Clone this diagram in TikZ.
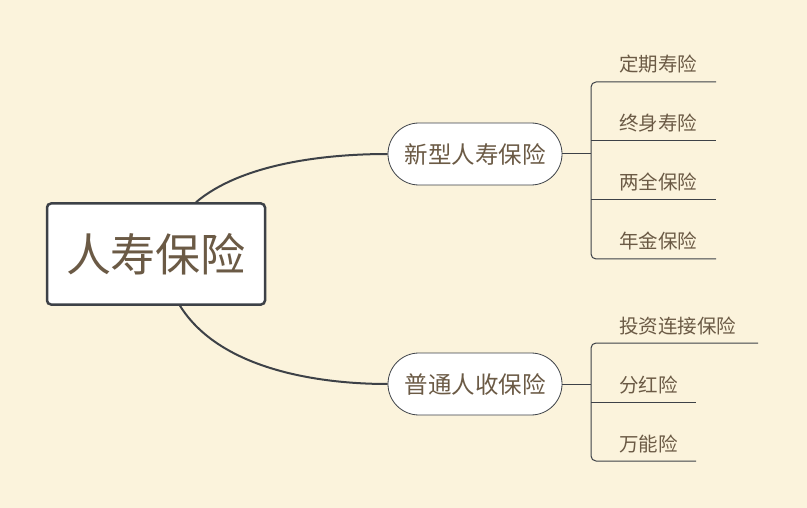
\documentclass[tikz,border=0pt]{standalone}
\usepackage{fontspec}
\setmainfont{Noto Sans CJK SC}
\usetikzlibrary{positioning}
\definecolor{bgcream}{HTML}{FBF3DC}
\definecolor{linegray}{HTML}{3D4147}
\definecolor{textbrown}{HTML}{6B5A45}
\tikzset{
	rootnode/.style = {draw=linegray, line width=2.5pt, fill=white, rounded corners=4pt,
		minimum width=218pt, minimum height=101pt, text=textbrown, font=\fontsize{45}{48}\selectfont},
	branchnode/.style = {draw=linegray, line width=0.8pt, fill=white, rounded corners=31pt,
		minimum width=174pt, minimum height=62pt, text=textbrown, font=\fontsize{23.5}{26}\selectfont},
	leafnode/.style = {anchor=base west, text=textbrown, font=\fontsize{19.5}{22}\selectfont, inner sep=0pt},
	conn/.style = {draw=linegray, line width=2pt},
	leafline/.style = {draw=linegray, line width=1pt, rounded corners=5pt}
}
\begin{document}
\begin{tikzpicture}[x=1pt,y=-1pt]
	\fill[bgcream] (0,0) rectangle (807,508);
	\useasboundingbox (0,0) rectangle (807,508);
	\node[rootnode] (root) at (156,254) {人寿保险};
	\node[branchnode] (new) at (475,154) {新型人寿保险};
	\node[branchnode] (old) at (475,384) {普通人收保险};
	% main connectors
	\draw[conn] (root.north) ++(40,0) coordinate (r1) .. controls (240,165) and (320,154) .. (new.west);
	\draw[conn] (root.south) ++(24,0) coordinate (r2) .. controls (220,370) and (320,384) .. (old.west);
	% upper leaves
	\coordinate (nb) at (591,154);
	\draw[leafline] (new.east) -- (nb);
	\draw[leafline] (716,82) -- (591,82) -- (591,259) -- (716,259);
	\draw[leafline] (591,141) -- (716,141);
	\draw[leafline] (591,200) -- (716,200);
	\node[leafnode] (l1) at (619,72) {定期寿险};
	\node[leafnode] (l2) at (619,131) {终身寿险};
	\node[leafnode] (l3) at (619,190) {两全保险};
	\node[leafnode] (l4) at (619,249) {年金保险};
	% lower leaves
	\coordinate (ob) at (591,384);
	\draw[leafline] (old.east) -- (ob);
	\draw[leafline] (758,343) -- (591,343) -- (591,461) -- (696,461);
	\draw[leafline] (591,402) -- (696,402);
	\node[leafnode] (m1) at (619,333) {投资连接保险};
	\node[leafnode] (m2) at (619,392) {分红险};
	\node[leafnode] (m3) at (619,451) {万能险};
\end{tikzpicture}
\end{document}
